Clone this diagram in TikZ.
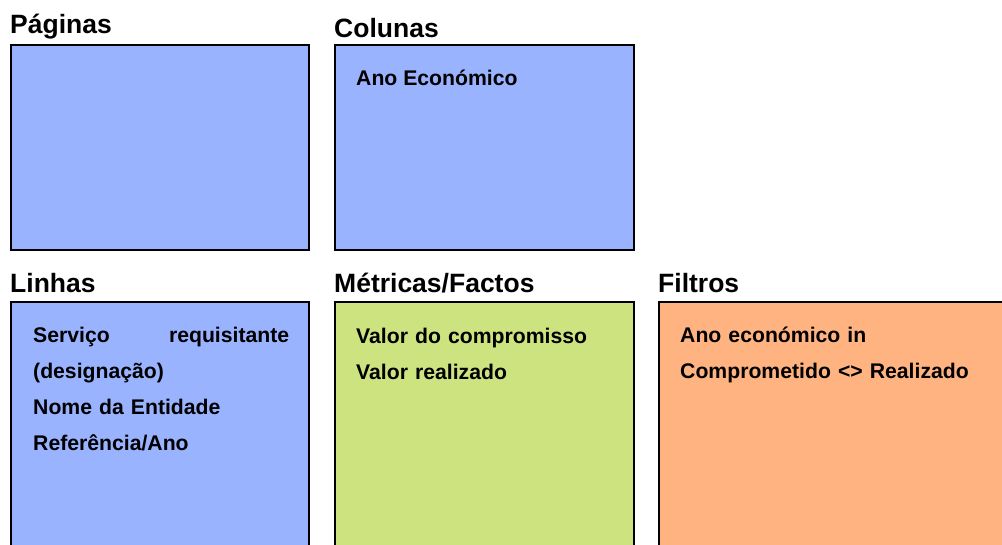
\documentclass[tikz,border=0pt]{standalone}
\usepackage{fontspec}
\setmainfont{Liberation Sans}
\definecolor{dimblue}{RGB}{153,179,255}
\definecolor{dimgreen}{RGB}{204,227,128}
\definecolor{dimorange}{RGB}{255,179,128}
\tikzset{
  dimbox/.style={draw=black, line width=1.5pt, anchor=north west, inner sep=0pt, outer sep=0pt},
  dimtitle/.style={anchor=base west, inner sep=0pt, font=\fontsize{26.5}{30}\selectfont\bfseries},
  dimtext/.style={anchor=base west, inner sep=0pt, font=\fontsize{21.2}{36}\selectfont\bfseries, align=left}
}
\begin{document}
\begin{tikzpicture}[x=1pt, y=-1pt]
\useasboundingbox (0,0) rectangle (1002,544);
\clip (0,0) rectangle (1002,544);
% boxes
\node[dimbox, fill=dimblue, minimum width=298pt, minimum height=205pt] (paginas) at (11,45) {};
\node[dimbox, fill=dimblue, minimum width=299pt, minimum height=205pt] (colunas) at (335,45) {};
\node[dimbox, fill=dimblue, minimum width=298pt, minimum height=260pt] (linhas) at (11,302) {};
\node[dimbox, fill=dimgreen, minimum width=299pt, minimum height=260pt] (metricas) at (335,302) {};
\node[dimbox, fill=dimorange, minimum width=360pt, minimum height=260pt] (filtros) at (659,302) {};
% titles
\node[dimtitle] (paginas title) at (10,33) {Páginas};
\node[dimtitle] (colunas title) at (334,37) {Colunas};
\node[dimtitle] (linhas title) at (10,292) {Linhas};
\node[dimtitle] (metricas title) at (334,292) {Métricas/Factos};
\node[dimtitle] (filtros title) at (658,292) {Filtros};
% contents
\node[dimtext] (colunas text) at (356,85) {Ano Económico};
\node[dimtext, text width=256pt] (linhas text) at (33,342)
  {Serviço\hfill requisitante\\(designação)\\Nome da Entidade\\Referência/Ano};
\node[dimtext, text width=260pt] (metricas text) at (356,343) {Valor do compromisso\\Valor realizado};
\node[dimtext, text width=300pt] (filtros text) at (680,342) {Ano económico in\\Comprometido <> Realizado};
\end{tikzpicture}
\end{document}
